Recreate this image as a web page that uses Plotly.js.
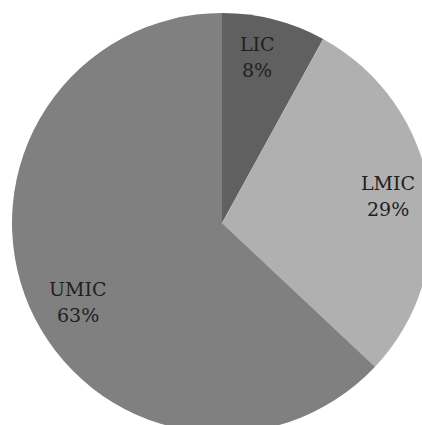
<!DOCTYPE html>
<html>
<head>
<meta charset="utf-8">
<script src="https://cdn.plot.ly/plotly-3.0.1.min.js"></script>
<style>
html, body { margin: 0; padding: 0; overflow: hidden; background: #ffffff; }
#chart { width: 444px; height: 446px; }
</style>
</head>
<body>
<div id="chart"></div>
<script>
const labels = ["LIC", "LMIC", "UMIC"];
const values = [8, 29, 63];
const colors = ["#606060", "#b0b0b0", "#808080"];

// label placement: along each slice's mid-angle (small angular nudge), at a fraction of the radius
const total = values.reduce((a, b) => a + b, 0);
const labelRadius = [0.81, 0.80, 0.78];
const labelNudgeDeg = [-2.5, -0.3, -5.3];
const annotations = [];
let cum = 0;
values.forEach((v, i) => {
  const mid = (cum + v / 2) / total * 2 * Math.PI + labelNudgeDeg[i] * Math.PI / 180;
  cum += v;
  const x = 0.5 + 0.5 * labelRadius[i] * Math.sin(mid);
  const y = 0.5 + 0.5 * labelRadius[i] * Math.cos(mid);
  const pct = Math.round(v / total * 100) + "%";
  const font = { family: "DejaVu Serif", size: 19, color: "#202020" };
  annotations.push({ xref: "paper", yref: "paper", x: x, y: y, text: labels[i],
    showarrow: false, font: font, xanchor: "center", yanchor: "middle", yshift: 13 });
  annotations.push({ xref: "paper", yref: "paper", x: x, y: y, text: pct,
    showarrow: false, font: font, xanchor: "center", yanchor: "middle", yshift: -13 });
});

Plotly.newPlot("chart", [{
  type: "pie",
  labels: labels,
  values: values,
  sort: false,
  direction: "clockwise",
  rotation: 0,
  marker: { colors: colors, line: { width: 0 } },
  textinfo: "none",
  textposition: "none",
  hoverinfo: "none"
}], {
  width: 444,
  height: 446,
  margin: { l: 12, r: 12, t: 13, b: 13 },
  showlegend: false,
  paper_bgcolor: "#ffffff",
  annotations: annotations
}, { staticPlot: true });
</script>
</body>
</html>
